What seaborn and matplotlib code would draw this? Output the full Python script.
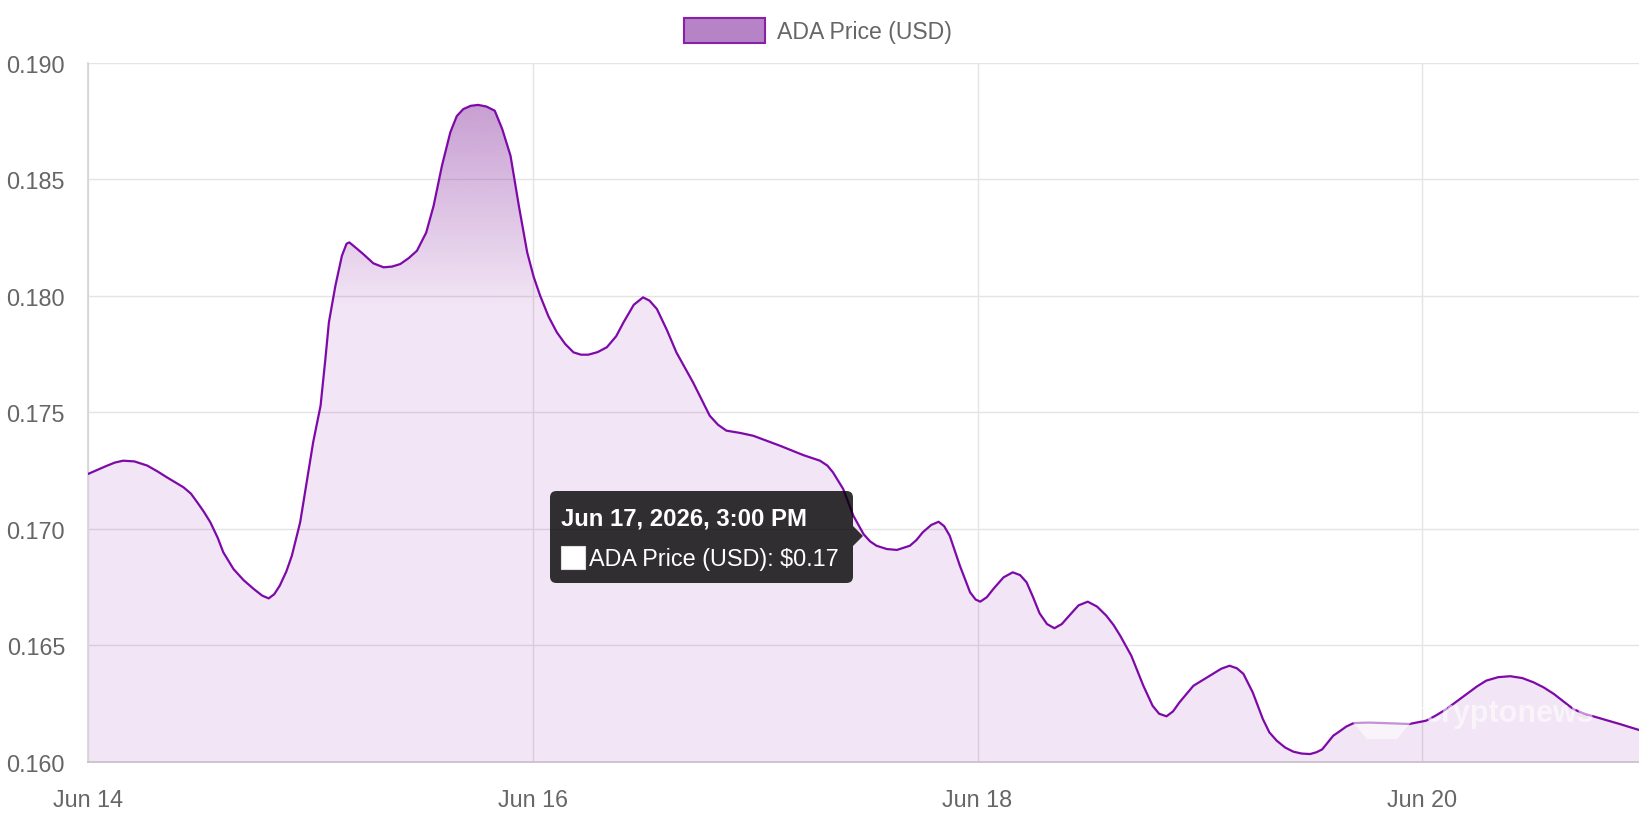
import numpy as np
import pandas as pd
import matplotlib
matplotlib.use("Agg")
import matplotlib.pyplot as plt
import matplotlib.dates as mdates
import seaborn as sns
from matplotlib.patches import Rectangle, FancyBboxPatch, Polygon

# ---------------- data ----------------
series_name = "ADA Price (USD)"
start_time = "2026-06-14 00:00"
hours = [0.0, 1.9, 2.9, 3.8, 5.0, 6.4, 7.5, 8.5, 10.3, 11.1, 11.8, 12.5, 13.2,
         14.0, 14.6, 15.7, 16.8, 17.9, 18.8, 19.5, 20.1, 20.7, 21.4, 22.0, 22.9,
         23.6, 24.3, 25.1, 25.6, 26.0, 26.7, 27.4, 27.9, 28.2, 28.9, 29.7, 30.8,
         31.9, 32.8, 33.7, 34.6, 35.5, 36.5, 37.3, 38.2, 39.1, 39.8, 40.5, 41.3,
         42.1, 43.0, 43.9, 44.7, 45.6, 46.5, 47.4, 48.1, 48.8, 49.7, 50.6, 51.5,
         52.4, 53.2, 54.0, 55.0, 56.0, 57.0, 57.8, 58.9, 59.9, 60.6, 61.4, 62.5,
         63.5, 65.3, 67.1, 68.0, 68.9, 70.4, 71.8, 74.7, 77.2, 79.0, 79.8, 80.4,
         81.5, 82.6, 83.7, 84.4, 85.1, 86.2, 87.3, 88.7, 89.4, 90.1, 91.0, 91.8,
         92.4, 93.0, 94.1, 95.2, 95.8, 96.3, 97.0, 97.7, 98.8, 99.8, 100.6, 101.3,
         102.0, 102.7, 103.5, 104.3, 105.1, 105.9, 106.9, 107.9, 108.9, 109.9,
         110.7, 111.4, 112.6, 113.9, 114.9, 115.6, 116.4, 117.1, 117.8, 119.3,
         121.4, 122.3, 123.2, 124.0, 124.7, 125.7, 126.8, 127.5, 128.3, 129.2,
         130.1, 131.0, 131.9, 132.6, 133.2, 134.4, 135.1, 135.8, 136.6, 138.2,
         139.8, 142.6, 144.4, 145.5, 146.6, 148.8, 149.9, 150.9, 152.2, 153.5,
         154.8, 156.0, 157.1, 158.2, 160.3, 161.5, 162.8, 165.3, 167.5]
prices = [0.17234, 0.17267, 0.17283, 0.17291, 0.17288, 0.17270, 0.17245, 0.17220,
          0.17177, 0.17150, 0.17112, 0.17072, 0.17027, 0.16960, 0.16898, 0.16826,
          0.16778, 0.16740, 0.16712, 0.16700, 0.16718, 0.16755, 0.16815, 0.16883,
          0.17027, 0.17200, 0.17370, 0.17527, 0.17720, 0.17885, 0.18042, 0.18170,
          0.18222, 0.18228, 0.18205, 0.18178, 0.18138, 0.18121, 0.18124, 0.18135,
          0.18160, 0.18192, 0.18270, 0.18385, 0.18557, 0.18700, 0.18770, 0.18800,
          0.18814, 0.18818, 0.18811, 0.18793, 0.18715, 0.18600, 0.18385, 0.18185,
          0.18080, 0.17999, 0.17910, 0.17842, 0.17792, 0.17756, 0.17746, 0.17746,
          0.17757, 0.17778, 0.17825, 0.17885, 0.17960, 0.17992, 0.17978, 0.17942,
          0.17850, 0.17756, 0.17627, 0.17484, 0.17445, 0.17420, 0.17410, 0.17398,
          0.17355, 0.17315, 0.17291, 0.17270, 0.17241, 0.17170, 0.17055, 0.16976,
          0.16945, 0.16926, 0.16912, 0.16908, 0.16926, 0.16950, 0.16984, 0.17015,
          0.17029, 0.17010, 0.16969, 0.16840, 0.16726, 0.16695, 0.16686, 0.16705,
          0.16740, 0.16790, 0.16812, 0.16800, 0.16769, 0.16705, 0.16636, 0.16590,
          0.16572, 0.16590, 0.16626, 0.16670, 0.16686, 0.16665, 0.16626, 0.16585,
          0.16540, 0.16454, 0.16325, 0.16239, 0.16205, 0.16194, 0.16215, 0.16254,
          0.16325, 0.16376, 0.16398, 0.16411, 0.16400, 0.16376, 0.16297, 0.16182,
          0.16125, 0.16089, 0.16060, 0.16042, 0.16034, 0.16032, 0.16040, 0.16052,
          0.16111, 0.16130, 0.16150, 0.16165, 0.16167, 0.16165, 0.16161, 0.16175,
          0.16198, 0.16225, 0.16290, 0.16322, 0.16347, 0.16362, 0.16366, 0.16358,
          0.16340, 0.16318, 0.16290, 0.16225, 0.16205, 0.16190, 0.16161, 0.16134]
x_tick_dates = ["2026-06-14", "2026-06-16", "2026-06-18", "2026-06-20"]
x_tick_labels = ["Jun 14", "Jun 16", "Jun 18", "Jun 20"]
y_ticks = [0.160, 0.165, 0.170, 0.175, 0.180, 0.185, 0.190]
tooltip_title = "Jun 17, 2026, 3:00 PM"
tooltip_body = "ADA Price (USD): $0.17"
watermark = "cryptonews"

df = pd.DataFrame({
    "time": pd.Timestamp(start_time) + pd.to_timedelta(hours, unit="h"),
    "price": prices,
})

# ---------------- style ----------------
sns.set_theme(style="white")
plt.rcParams["font.family"] = ["Liberation Sans", "DejaVu Sans"]
plt.rcParams["lines.solid_joinstyle"] = "round"

W, H = 1640, 820
fig = plt.figure(figsize=(W / 100, H / 100), dpi=100)
fig.patch.set_facecolor("white")
ax = fig.add_axes([88 / W, 1 - 762.5 / H, (W - 88) / W, (762.5 - 63.5) / H])
ax.set_facecolor("white")

LINE = "#7d0aa8"
ymin, ymax = y_ticks[0], y_ticks[-1]

# area fill
fill = ax.fill_between(df["time"], df["price"], ymin,
                       color=(0.53, 0.0, 0.63, 0.10), lw=0, zorder=1)

# vertical gradient in the upper part of the fill
xnum = mdates.date2num(df["time"])
n = 256
ramp = np.linspace(0, 1, n)
rgba = np.zeros((n, 1, 4))
rgba[..., 0] = 140 / 255
rgba[..., 1] = 60 / 255
rgba[..., 2] = 160 / 255
rgba[:, 0, 3] = 0.5 * ramp
grad_lo = 0.1795
im = ax.imshow(rgba, extent=[xnum[0], xnum[-1], grad_lo, ymax], origin="lower",
               aspect="auto", zorder=1.5, interpolation="bilinear")
im.set_clip_path(fill.get_paths()[0], transform=ax.transData)

# line
sns.lineplot(data=df, x="time", y="price", color=LINE, linewidth=1.6, ax=ax,
             zorder=3)

ax.set_xlim(df["time"].iloc[0], df["time"].iloc[-1])
ax.set_ylim(ymin, ymax)
ax.set_yticks(y_ticks)
ax.set_yticklabels([f"{t:.3f}" for t in y_ticks])
ax.set_xticks(pd.to_datetime(x_tick_dates))
ax.set_xticklabels(x_tick_labels)
ax.set_xlabel("")
ax.set_ylabel("")

ax.set_axisbelow(True)
ax.grid(True, color="#e4e4e4", linewidth=1.0)
for s in ["top", "right"]:
    ax.spines[s].set_visible(False)
ax.spines["left"].set_color("#d4d4d4")
ax.spines["left"].set_linewidth(1.2)
ax.spines["bottom"].set_color("#cbc0ce")
ax.spines["bottom"].set_linewidth(1.3)

ax.tick_params(axis="both", length=11.5, width=1.0, color="#e4e4e4",
               labelcolor="#666666", labelsize=16.8)
ax.tick_params(axis="y", pad=5)
ax.tick_params(axis="x", pad=7.5)

# ---------------- legend (top centre) ----------------
fig.add_artist(Rectangle((684 / W, 1 - 44.3 / H), 81 / W, 25 / H,
                         transform=fig.transFigure, facecolor="#b684c6",
                         edgecolor="#8a1fa8", linewidth=1.5))
fig.text(777 / W, 1 - 32 / H, series_name, color="#666666", fontsize=16.6,
         ha="left", va="center")

# ---------------- watermark ----------------
T = fig.dpi_scale_trans
fig.add_artist(Polygon([(13.40, (820 - 708) / 100), (14.24, (820 - 708) / 100),
                        (13.97, (820 - 740) / 100), (13.67, (820 - 740) / 100)],
                       closed=True, transform=T, facecolor="white",
                       edgecolor="none", alpha=0.55, zorder=5))
fig.text(1425 / W, 1 - 722 / H, watermark, color="white", alpha=0.55,
         fontsize=22, fontweight="bold", ha="left", va="baseline", zorder=5)

# ---------------- tooltip ----------------
fig.add_artist(FancyBboxPatch((5.50, (820 - 584) / 100), 3.03, 0.92,
                              boxstyle="round,pad=0,rounding_size=0.065",
                              transform=T, facecolor=(0, 0, 0, 0.8),
                              edgecolor="none", zorder=6))
fig.add_artist(Polygon([(8.53, (820 - 527) / 100), (8.63, (820 - 537) / 100),
                        (8.53, (820 - 547) / 100)], closed=True, transform=T,
                       facecolor=(0, 0, 0, 0.8), edgecolor="none", zorder=6))
fig.text(561 / W, 1 - 525.7 / H, tooltip_title, color="white", fontsize=17.2,
         fontweight="bold", ha="left", va="baseline", zorder=7)
fig.add_artist(Rectangle((5.61, (820 - 570) / 100), 0.24, 0.23, transform=T,
                         facecolor="white", edgecolor="#dddddd", linewidth=0.8,
                         zorder=7))
fig.text(589 / W, 1 - 565.7 / H, tooltip_body, color="white", fontsize=16.8,
         ha="left", va="baseline", zorder=7)

fig.savefig("out.png", dpi=100, facecolor="white")
